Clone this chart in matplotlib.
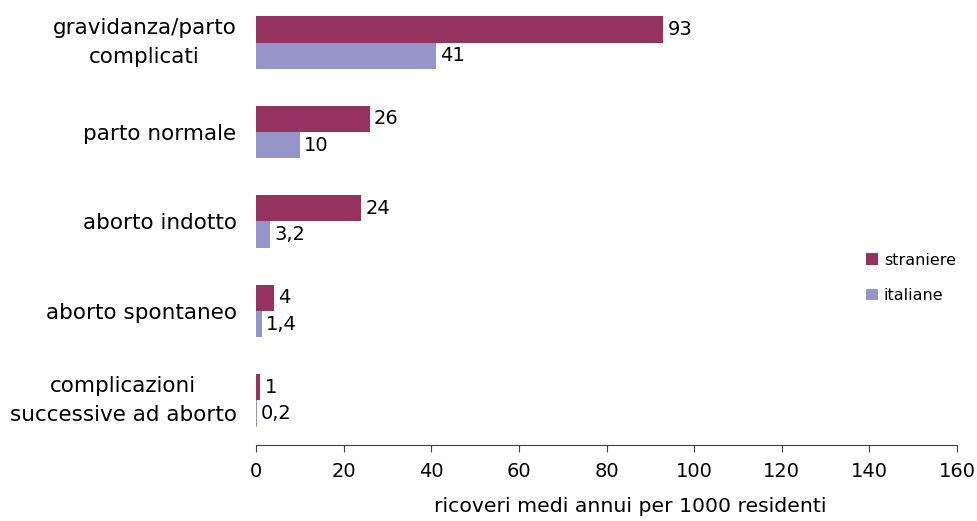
import matplotlib
matplotlib.use("Agg")
import matplotlib.pyplot as plt
import numpy as np

categories = ["gravidanza/parto\ncomplicati", "parto normale", "aborto indotto",
              "aborto spontaneo", "complicazioni\nsuccessive ad aborto"]
straniere = [93, 26, 24, 4, 1]
italiane = [41, 10, 3.2, 1.4, 0.2]
straniere_labels = ["93", "26", "24", "4", "1"]
italiane_labels = ["41", "10", "3,2", "1,4", "0,2"]
xticks = [0, 20, 40, 60, 80, 100, 120, 140, 160]

c_str = "#943360"
c_ita = "#9595C9"

plt.rcParams['font.family'] = ['DejaVu Sans']
fig = plt.figure(figsize=(9.78, 5.21), dpi=100)
ax = fig.add_axes([256/978, 1-445/521, (957-256)/978, 447/521])

y = np.arange(len(categories))
h = 0.295
b1 = ax.barh(y - h/2, straniere, height=h, color=c_str, label="straniere")
b2 = ax.barh(y + h/2, italiane, height=h, color=c_ita, label="italiane")

for rect, lab in zip(b1, straniere_labels):
    ax.annotate(lab, (rect.get_width(), rect.get_y() + rect.get_height()/2),
                xytext=(3, 0), textcoords="offset points", va="center", ha="left", fontsize=14)
for rect, lab in zip(b2, italiane_labels):
    ax.annotate(lab, (rect.get_width(), rect.get_y() + rect.get_height()/2),
                xytext=(3, 0), textcoords="offset points", va="center", ha="left", fontsize=14)

ax.set_ylim(len(categories) - 0.5, -0.5)
ax.set_xlim(0, 160)
ax.set_xticks(xticks)
ax.set_yticks(y)
ax.set_yticklabels(categories, fontsize=15.5, multialignment="center", linespacing=1.55)
for t in ax.get_yticklabels():
    if "\n" in t.get_text():
        t.set_va("center")
ax.tick_params(axis="y", length=0, pad=14)
ax.tick_params(axis="x", labelsize=14, length=5, direction="out", pad=7, color="#404040")
for s in ["top", "right", "left"]:
    ax.spines[s].set_visible(False)
ax.spines["bottom"].set_color("#404040")

fig.text(630/978, 1-507/521, "ricoveri medi annui per 1000 residenti", ha="center", va="center", fontsize=14.7)

leg = fig.legend(handles=[b1, b2], loc="center left", bbox_to_anchor=(852/978, 1-278/521),
                 frameon=False, fontsize=11.5, handlelength=0.7, handleheight=0.7,
                 handletextpad=0.4, labelspacing=1.3)

fig.savefig("out.png", dpi=100)
